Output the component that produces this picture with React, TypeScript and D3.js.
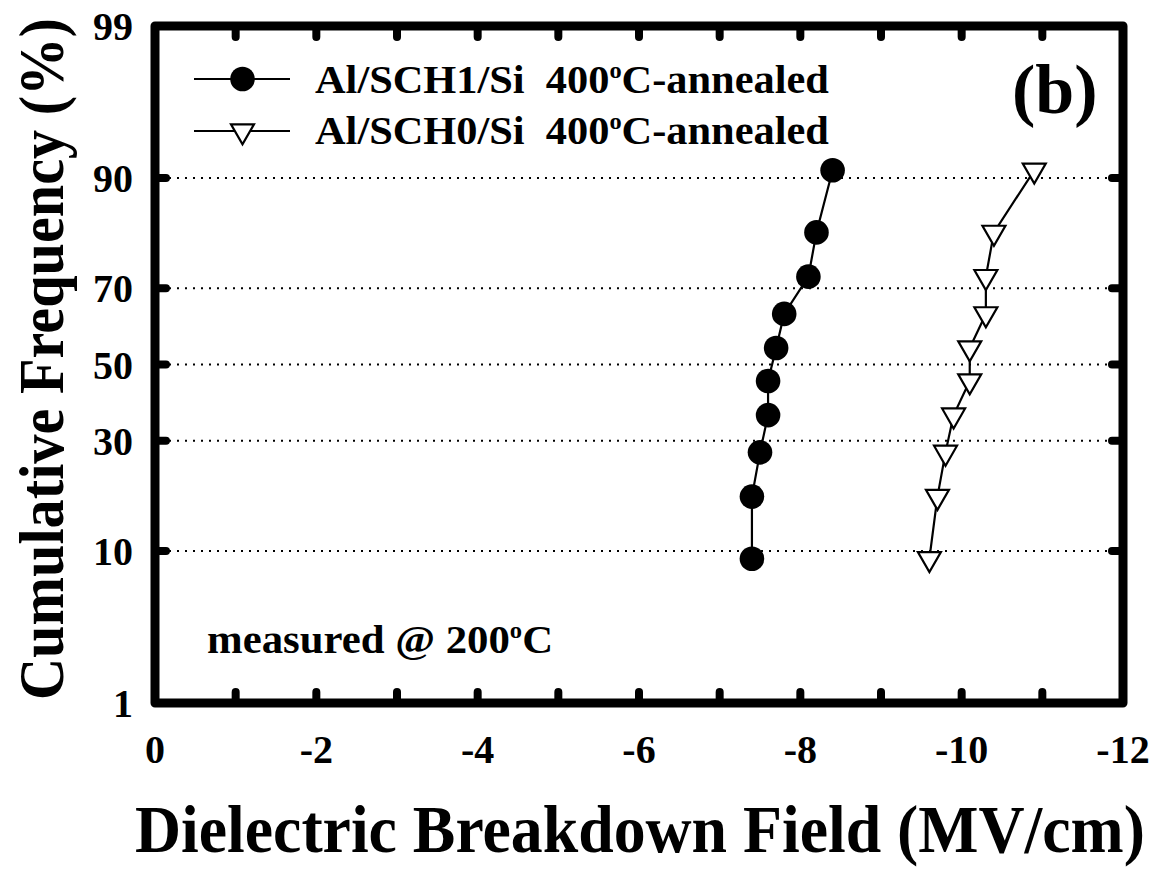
import React, { useLayoutEffect, useRef, useState } from "react";
import * as d3 from "d3";

const sch1Field = [-7.4, -7.4, -7.5, -7.6, -7.6, -7.7, -7.8, -8.1, -8.2, -8.4];
const sch0Field = [-9.6, -9.7, -9.8, -9.9, -10.1, -10.1, -10.3, -10.3, -10.4, -10.9];
const cumFreq = [9.1, 18.2, 27.3, 36.4, 45.5, 54.5, 63.6, 72.7, 81.8, 90.9];
const yTickLabels = [1, 10, 30, 50, 70, 90, 99];
const yGridValues = [10, 30, 50, 70, 90];
const xTickLabels = [0, -2, -4, -6, -8, -10, -12];
const xMinorTicks = [-1, -2, -3, -4, -5, -6, -7, -8, -9, -10, -11];
const legendLabels = ["Al/SCH1/Si\u00a0\u00a0400", "Al/SCH0/Si\u00a0\u00a0400"];
const xTitle = "Dielectric Breakdown Field (MV/cm)";
const yTitle = "Cumulative Frequency (%)";

// inverse standard normal CDF (Acklam)
function probit(pPct: number): number {
  const p = pPct / 100;
  const a = [-3.969683028665376e1, 2.209460984245205e2, -2.759285104469687e2, 1.38357751867269e2, -3.066479806614716e1, 2.506628277459239];
  const b = [-5.447609879822406e1, 1.615858368580409e2, -1.556989798598866e2, 6.680131188771972e1, -1.328068155288572e1];
  const c = [-7.784894002430293e-3, -3.223964580411365e-1, -2.400758277161838, -2.549732539343734, 4.374664141464968, 2.938163982698783];
  const d = [7.784695709041462e-3, 3.224671290700398e-1, 2.445134137142996, 3.754408661907416];
  const pl = 0.02425;
  if (p < pl) {
    const q = Math.sqrt(-2 * Math.log(p));
    return (((((c[0] * q + c[1]) * q + c[2]) * q + c[3]) * q + c[4]) * q + c[5]) / ((((d[0] * q + d[1]) * q + d[2]) * q + d[3]) * q + 1);
  }
  if (p > 1 - pl) {
    const q = Math.sqrt(-2 * Math.log(1 - p));
    return -(((((c[0] * q + c[1]) * q + c[2]) * q + c[3]) * q + c[4]) * q + c[5]) / ((((d[0] * q + d[1]) * q + d[2]) * q + d[3]) * q + 1);
  }
  const q = p - 0.5;
  const r = q * q;
  return ((((((a[0] * r + a[1]) * r + a[2]) * r + a[3]) * r + a[4]) * r + a[5]) * q) / (((((b[0] * r + b[1]) * r + b[2]) * r + b[3]) * r + b[4]) * r + 1);
}

const W = 1160, H = 869;
const L = 155, R = 1123, T = 26, B = 703;
const FONT = "'Liberation Serif', 'Times New Roman', serif";

export default function App() {
  const x = d3.scaleLinear().domain([0, -12]).range([L, R]);
  const zScale = d3.scaleLinear().domain([probit(1), probit(99)]).range([B, T]);
  const y = (p: number) => zScale(probit(p));

  const line = d3.line<[number, number]>().x((d) => x(d[0])).y((d) => y(d[1]));
  const s1 = sch1Field.map((v, i) => [v, cumFreq[i]] as [number, number]);
  const s0 = sch0Field.map((v, i) => [v, cumFreq[i]] as [number, number]);

  const xTitleRef = useRef<SVGTextElement>(null);
  const yTitleRef = useRef<SVGTextElement>(null);
  const [sx, setSx] = useState(0.93);
  const [sy, setSy] = useState(0.9);
  useLayoutEffect(() => {
    if (xTitleRef.current) {
      const n = xTitleRef.current.getComputedTextLength();
      if (n > 0) setSx(1010 / n);
    }
    if (yTitleRef.current) {
      const n = yTitleRef.current.getComputedTextLength();
      if (n > 0) setSy(682 / n);
    }
  }, []);

  const tri = (cx: number, cy: number) => {
    const h = 20, hw = 11.5;
    return `M${cx - hw},${cy - h / 3}L${cx + hw},${cy - h / 3}L${cx},${cy + (2 * h) / 3}Z`;
  };

  const tickLen = 7;

  return (
    <svg width={W} height={H} style={{ position: "absolute", left: 0, top: 0, background: "#fff" }} fontFamily={FONT} fontWeight="bold">
      <rect x={0} y={0} width={W} height={H} fill="#fff" />
      {/* grid */}
      {yGridValues.map((v) => (
        <line key={"g" + v} x1={L + 6} x2={R - 6} y1={y(v)} y2={y(v)} stroke="#000" strokeWidth={2} strokeDasharray="2,6" />
      ))}
      {/* ticks */}
      {xMinorTicks.map((v) => (
        <g key={"xt" + v}>
          <line x1={x(v)} x2={x(v)} y1={B} y2={B - tickLen - 4} stroke="#000" strokeWidth={8} strokeLinecap="round" />
          <line x1={x(v)} x2={x(v)} y1={T} y2={T + tickLen + 4} stroke="#000" strokeWidth={8} strokeLinecap="round" />
        </g>
      ))}
      {yGridValues.map((v) => (
        <g key={"yt" + v}>
          <line x1={L} x2={L + tickLen + 4} y1={y(v)} y2={y(v)} stroke="#000" strokeWidth={8} strokeLinecap="round" />
          <line x1={R} x2={R - tickLen - 4} y1={y(v)} y2={y(v)} stroke="#000" strokeWidth={8} strokeLinecap="round" />
        </g>
      ))}
      {/* frame */}
      <rect x={L} y={T} width={R - L} height={B - T} fill="none" stroke="#000" strokeWidth={9} strokeLinejoin="round" />
      {/* tick labels */}
      {yTickLabels.map((v) => (
        <text key={"yl" + v} x={133} y={y(v) + 14} fontSize={40} textAnchor="end">{v}</text>
      ))}
      {xTickLabels.map((v) => (
        <text key={"xl" + v} x={x(v)} y={763} fontSize={40} textAnchor="middle">{v}</text>
      ))}
      {/* data lines */}
      <path d={line(s1) || ""} fill="none" stroke="#000" strokeWidth={2.2} />
      <path d={line(s0) || ""} fill="none" stroke="#000" strokeWidth={2.2} />
      {s1.map((d, i) => (
        <circle key={"c" + i} cx={x(d[0])} cy={y(d[1])} r={12.3} fill="#000" />
      ))}
      {s0.map((d, i) => (
        <path key={"t" + i} d={tri(x(d[0]), y(d[1]))} fill="#fff" stroke="#000" strokeWidth={2.2} strokeLinejoin="miter" />
      ))}
      {/* legend */}
      <line x1={194} x2={290} y1={79} y2={79} stroke="#000" strokeWidth={2.2} />
      <circle cx={242.5} cy={79} r={12.3} fill="#000" />
      <line x1={194} x2={290} y1={131} y2={131} stroke="#000" strokeWidth={2.2} />
      <path d={tri(242.5, 131)} fill="#fff" stroke="#000" strokeWidth={2.2} />
      {legendLabels.map((lab, i) => (
        <text key={"lg" + i} transform={`translate(315,${93 + i * 51}) scale(1.06,1)`} x={0} y={0} fontSize={40}>
          {lab}
          <tspan dy={-15} fontSize={23}>o</tspan>
          <tspan dy={15}>C-annealed</tspan>
        </text>
      ))}
      <text x={1012} y={113} fontSize={70}>(b)</text>
      <text transform="translate(207,653) scale(1.07,1)" x={0} y={0} fontSize={40}>
        measured @ 200<tspan dy={-15} fontSize={23}>o</tspan>
        <tspan dy={15}>C</tspan>
      </text>
      {/* axis titles */}
      <text ref={xTitleRef} transform={`translate(135,852) scale(${sx},1)`} x={0} y={0} fontSize={68}>{xTitle}</text>
      <text ref={yTitleRef} transform={`translate(63,700) rotate(-90) scale(${sy},1)`} x={0} y={0} fontSize={64}>{yTitle}</text>
    </svg>
  );
}
